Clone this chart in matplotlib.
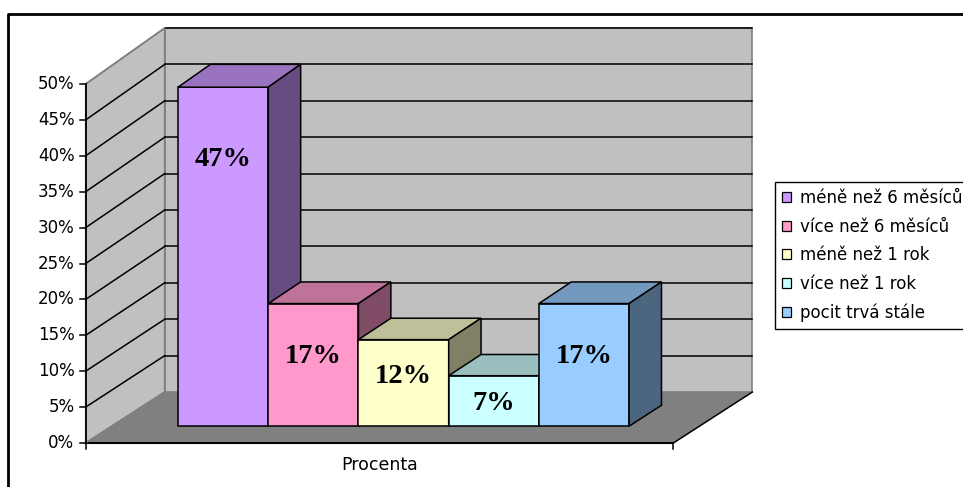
import matplotlib
matplotlib.use("Agg")
import matplotlib.pyplot as plt
from matplotlib.patches import Polygon, Patch
from matplotlib.lines import Line2D

# --- data ---
categories = ["méně než 6 měsíců", "více než 6 měsíců", "méně než 1 rok",
              "více než 1 rok", "pocit trvá stále"]
values = [47, 17, 12, 7, 17]
value_labels = ["47%", "17%", "12%", "7%", "17%"]
y_ticks = [0, 5, 10, 15, 20, 25, 30, 35, 40, 45, 50]
x_title = "Procenta"

front_colors = ["#CC99FF", "#FF99CC", "#FFFFCC", "#CCFFFF", "#99CCFF"]
top_colors = ["#9973BF", "#BF7399", "#BFBF99", "#99BFBF", "#7399BF"]
side_colors = ["#664C80", "#804C66", "#808066", "#668080", "#4C6680"]

# --- oblique 3D projection (x in bar slots, v in percent, d = depth 0..1) ---
DX, DY, PERSP = 0.876, 7.10, 0.014
XL, XR = -0.735, 5.78          # floor / wall extent in bar slots
D0, D1 = 0.33, 0.74            # depth range of the bars
VMAX = 50


def proj(x, v, d):
    return x + d * DX, v * (1 + PERSP * d) + d * DY


def face(points, **kw):
    return Polygon([proj(*p) for p in points], closed=True, **kw)


fig = plt.figure(figsize=(9.63, 4.87), dpi=100)
ax = fig.add_axes([0, 0, 1, 1])
ax.set_xlim(-1.685, 8.991)
ax.set_ylim(-6.128, 61.70)
ax.axis("off")

wall = "#C0C0C0"
floor = "#808080"
edge_gray = "#808080"

# walls and floor
ax.add_patch(face([(XL, 0, 1), (XR, 0, 1), (XR, VMAX, 1), (XL, VMAX, 1)],
                  facecolor=wall, edgecolor=edge_gray, lw=1.2, zorder=1))
ax.add_patch(face([(XL, 0, 0), (XL, 0, 1), (XL, VMAX, 1), (XL, VMAX, 0)],
                  facecolor=wall, edgecolor=edge_gray, lw=1.2, zorder=1))
ax.add_patch(face([(XL, 0, 0), (XR, 0, 0), (XR, 0, 1), (XL, 0, 1)],
                  facecolor=floor, edgecolor="none", zorder=1))

# gridlines on back and side wall
for t in y_ticks[1:]:
    xs, ys = zip(proj(XL, t, 1), proj(XR, t, 1))
    ax.plot(xs, ys, color="black", lw=1.1, zorder=2)
    xs, ys = zip(proj(XL, t, 0), proj(XL, t, 1))
    ax.plot(xs, ys, color="black" if t < VMAX else edge_gray, lw=1.1, zorder=2)

# floor edges
xs, ys = zip(proj(XL, 0, 0), proj(XR, 0, 0))
ax.plot(xs, ys, color="black", lw=1.5, zorder=3)
xs, ys = zip(proj(XR, 0, 0), proj(XR, 0, 1))
ax.plot(xs, ys, color="black", lw=1.1, zorder=3)
xs, ys = zip(proj(XL, 0, 0), proj(XL, 0, 1))
ax.plot(xs, ys, color=edge_gray, lw=1.2, zorder=3)

# value axis with ticks and labels
xs, ys = zip(proj(XL, 0, 0), proj(XL, VMAX, 0))
ax.plot(xs, ys, color="black", lw=1.3, zorder=3)
for t in y_ticks:
    x0, y0 = proj(XL, t, 0)
    ax.plot([x0 - 0.067, x0], [y0, y0], color="black", lw=1.1, zorder=3)
    ax.text(x0 - 0.125, y0, f"{t}%", ha="right", va="center",
            fontsize=12, family="DejaVu Sans", color="black")

# category axis ticks and title
for xe in (XL, XR):
    x0, y0 = proj(xe, 0, 0)
    ax.plot([x0, x0], [y0, y0 - 0.84], color="black", lw=1.1, zorder=3)
xc, _ = proj((XL + XR) / 2, 0, 0)
ax.text(xc, -3.06, x_title, ha="center", va="center",
        fontsize=12.5, family="DejaVu Sans")

# bars, drawn left to right so each front face covers its neighbour's side
for i, v in enumerate(values):
    kw = dict(edgecolor="black", lw=1.1, zorder=5 + i, joinstyle="miter")
    ax.add_patch(face([(i, 0, D0), (i + 1, 0, D0), (i + 1, v, D0), (i, v, D0)],
                      facecolor=front_colors[i], **kw))
    ax.add_patch(face([(i, v, D0), (i + 1, v, D0), (i + 1, v, D1), (i, v, D1)],
                      facecolor=top_colors[i], **kw))
    ax.add_patch(face([(i + 1, 0, D0), (i + 1, 0, D1), (i + 1, v, D1), (i + 1, v, D0)],
                      facecolor=side_colors[i], **kw))

# value labels on the bar fronts
for i, (v, lab) in enumerate(zip(values, value_labels)):
    drop = min(10, max(3.9, 0.43 * v))
    lx, ly = proj(i + 0.5, v - drop, D0)
    ax.text(lx, ly, lab, ha="center", va="center", fontsize=20.5,
            family="Liberation Serif", fontweight="bold", zorder=20)

# legend
handles = [Patch(facecolor=c, edgecolor="black", lw=0.9) for c in front_colors]
leg = fig.legend(handles, categories, loc="upper left",
                 bbox_to_anchor=(775 / 963, 1 - 182 / 487), borderaxespad=0,
                 frameon=True, fancybox=False, edgecolor="black", framealpha=1,
                 prop={"family": "DejaVu Sans", "size": 12},
                 handlelength=0.55, handleheight=0.55, handletextpad=0.5,
                 labelspacing=0.64, borderpad=0.42)
leg.get_frame().set_linewidth(1.0)

# outer chart frame
fig.add_artist(Line2D([8 / 963, 8 / 963, 1.2], [-0.2, 1 - 14 / 487, 1 - 14 / 487],
                      transform=fig.transFigure, color="black", lw=2))

fig.savefig("out.png", dpi=100)
